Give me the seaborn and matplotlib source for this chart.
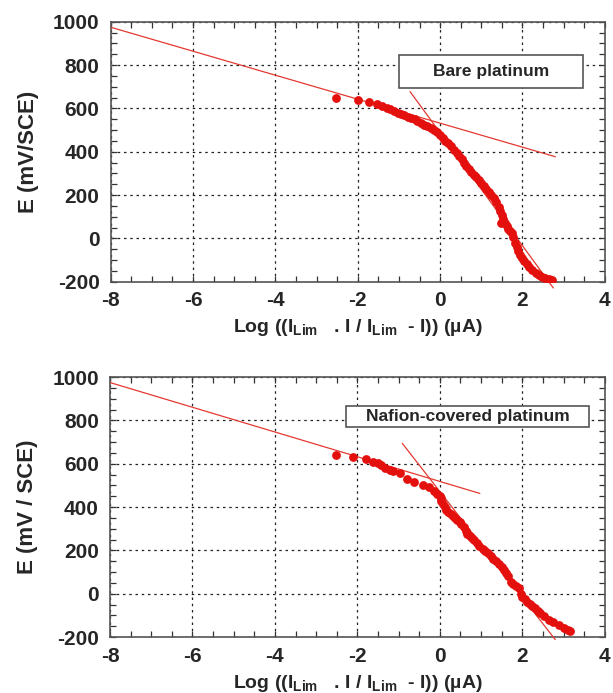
import matplotlib
matplotlib.use("Agg")
import matplotlib.pyplot as plt
from matplotlib.ticker import MultipleLocator
import seaborn as sns
import pandas as pd

# Bare platinum - measured points (log current, E mV/SCE)
bare_x = [-2.52, -1.99, -1.73, -1.53, -1.40, -1.30, -1.22, -1.12, -1.03, -0.95,
          -0.87, -0.78, -0.70, -0.62, -0.55, -0.47, -0.40, -0.32, -0.23, -0.15,
          -0.08, 0.00, 0.06, 0.12, 0.18, 0.26, 0.34, 0.40, 0.46, 0.52,
          0.58, 0.64, 0.70, 0.76, 0.82, 0.88, 0.94, 1.00, 1.06, 1.12,
          1.18, 1.24, 1.30, 1.36, 1.42, 1.46, 1.50, 1.54, 1.48, 1.58,
          1.62, 1.66, 1.70, 1.74, 1.78, 1.82, 1.86, 1.90, 1.94, 1.98,
          2.04, 2.10, 2.16, 2.24, 2.32, 2.40, 2.48, 2.56, 2.64, 2.72]
bare_e = [648, 637, 629, 620, 610, 604, 597, 590, 580, 574,
          568, 562, 556, 549, 540, 532, 525, 518, 509, 500,
          490, 476, 465, 452, 440, 425, 409, 395, 380, 365,
          350, 336, 322, 308, 294, 282, 268, 254, 240, 228,
          214, 200, 185, 166, 145, 126, 106, 88, 72, 72,
          58, 45, 34, 24, 5, -20, -40, -60, -76, -90,
          -106, -120, -132, -145, -158, -168, -176, -182, -188, -192]
bare_fit1_x = [-8.0, 2.80]
bare_fit1_e = [975, 377]
bare_fit2_x = [-0.73, 2.75]
bare_fit2_e = [678, -229]

# Nafion-covered platinum
naf_x = [-2.52, -2.10, -1.80, -1.62, -1.50, -1.42, -1.33, -1.22, -1.14, -0.97,
         -0.80, -0.62, -0.42, -0.26, -0.14, -0.06, 0.00, 0.02, 0.04, 0.08,
         0.12, 0.16, 0.20, 0.26, 0.32, 0.36, 0.42, 0.48, 0.52, 0.58,
         0.64, 0.66, 0.72, 0.78, 0.84, 0.90, 0.96, 1.04, 1.10, 1.16,
         1.24, 1.30, 1.36, 1.44, 1.50, 1.56, 1.60, 1.66, 1.72, 1.78,
         1.84, 1.92, 1.96, 2.00, 2.06, 2.12, 2.18, 2.24, 2.32, 2.38,
         2.44, 2.52, 2.64, 2.74, 2.88, 3.00, 3.10, 3.16]
naf_e = [640, 629, 620, 609, 602, 594, 582, 572, 566, 556,
         530, 517, 502, 491, 476, 462, 450, 440, 430, 412,
         400, 388, 378, 368, 358, 350, 340, 330, 322, 306,
         290, 275, 266, 255, 246, 232, 220, 208, 198, 186,
         173, 162, 150, 138, 124, 108, 94, 80, 56, 45,
         36, 24, 0, -14, -26, -37, -46, -56, -67, -78,
         -90, -104, -120, -132, -144, -160, -168, -172]
naf_fit1_x = [-8.0, 0.97]
naf_fit1_e = [975, 463]
naf_fit2_x = [-0.91, 2.80]
naf_fit2_e = [694, -212]

xlabel = r"Log ((I$_{\mathbf{Lim}}$   . I / I$_{\mathbf{Lim}}$  - I)) (µA)"

sns.set_style("ticks")
plt.rcParams["font.family"] = ["Liberation Sans", "DejaVu Sans"]
plt.rcParams["font.weight"] = "bold"
plt.rcParams["axes.unicode_minus"] = False
plt.rcParams["mathtext.fontset"] = "custom"
plt.rcParams["mathtext.bf"] = "Liberation Sans:bold"
plt.rcParams["mathtext.rm"] = "Liberation Sans:bold"

fig = plt.figure(figsize=(6.13, 6.93), dpi=100)
ax1 = fig.add_axes([0.1806, 0.5935, 0.806, 0.375])
ax2 = fig.add_axes([0.1795, 0.0808, 0.807, 0.375])

panels = [
    (ax1, bare_x, bare_e, bare_fit1_x, bare_fit1_e, bare_fit2_x, bare_fit2_e,
     "E (mV/SCE)", "Bare platinum", (-1.0, 695, 4.48, 153), 12.5),
    (ax2, naf_x, naf_e, naf_fit1_x, naf_fit1_e, naf_fit2_x, naf_fit2_e,
     "E (mV / SCE)", "Nafion-covered platinum", (-2.27, 769, 5.88, 99), 12.5),
]

for ax, x, e, f1x, f1e, f2x, f2e, ylab, title, box, tsize in panels:
    df = pd.DataFrame({"x": x, "E": e})
    sns.scatterplot(data=df, x="x", y="E", ax=ax, color="#e3100e", s=40,
                    linewidth=0, zorder=4)
    ax.plot(f1x, f1e, color="#e23a30", lw=0.9, zorder=3)
    ax.plot(f2x, f2e, color="#e23a30", lw=0.9, zorder=3, clip_on=False)

    ax.set_xlim(-8, 4)
    ax.set_ylim(-200, 1000)
    ax.xaxis.set_major_locator(MultipleLocator(2))
    ax.xaxis.set_minor_locator(MultipleLocator(0.5))
    ax.yaxis.set_major_locator(MultipleLocator(200))
    ax.yaxis.set_minor_locator(MultipleLocator(50))
    ax.tick_params(which="both", direction="in", top=True, right=True,
                   length=4, width=0.9, color="#333333")
    ax.tick_params(which="major", labelsize=15)
    ax.tick_params(axis="x", which="major", pad=7)
    ax.tick_params(axis="y", which="major", pad=8)
    for lab in ax.get_xticklabels() + ax.get_yticklabels():
        lab.set_fontweight("bold")
    ax.grid(True, which="major", color="#222222", linestyle=(0, (2, 3)),
            linewidth=0.9)
    for sp in ax.spines.values():
        sp.set_color("#555555")
        sp.set_linewidth(1.2)

    ax.set_xlabel(xlabel, fontsize=14, fontweight="bold", labelpad=5)
    ax.set_ylabel(ylab, fontsize=16, fontweight="bold", labelpad=10)

    bx, by, bw, bh = box
    ax.add_patch(plt.Rectangle((bx, by), bw, bh, facecolor="white",
                               edgecolor="#555555", lw=1.2, zorder=5))
    ax.text(bx + bw / 2, by + bh / 2, title, ha="center", va="center",
            fontsize=tsize, fontweight="bold", zorder=6)

fig.savefig("out.png", dpi=100)
